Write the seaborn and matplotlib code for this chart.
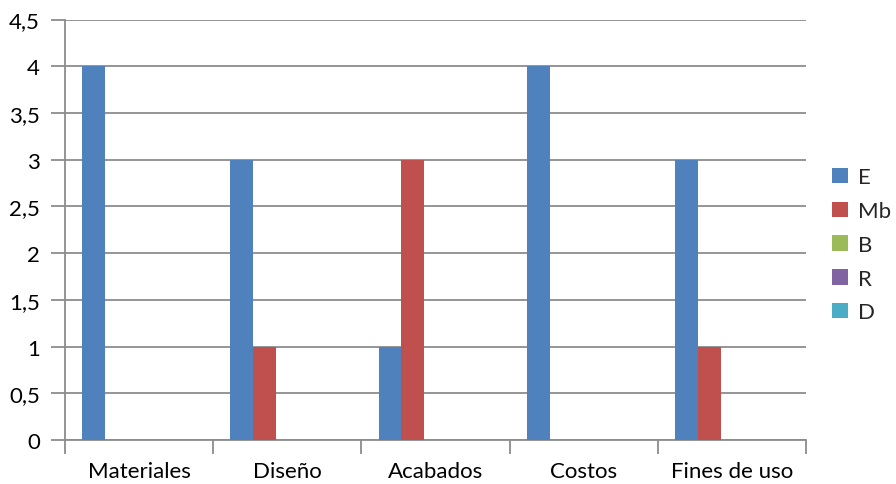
import matplotlib
matplotlib.use("Agg")
import matplotlib.pyplot as plt
from matplotlib.ticker import FuncFormatter, MultipleLocator, FixedLocator
from matplotlib.patches import Patch
import seaborn as sns
import pandas as pd

categories = ["Materiales", "Diseño", "Acabados", "Costos", "Fines de uso"]
series = ["E", "Mb", "B", "R", "D"]
values_E = [4, 3, 1, 4, 3]
values_Mb = [0, 1, 3, 0, 1]
values_B = [0, 0, 0, 0, 0]
values_R = [0, 0, 0, 0, 0]
values_D = [0, 0, 0, 0, 0]
colors = ["#4F81BD", "#C0504D", "#9BBB59", "#8064A2", "#4BACC6"]

rows = []
for name, vals in zip(series, [values_E, values_Mb, values_B, values_R, values_D]):
    for cat, v in zip(categories, vals):
        rows.append({"Categoria": cat, "Serie": name, "Valor": v})
df = pd.DataFrame(rows)

sns.set_theme(style="white")
plt.rcParams["font.family"] = ["Lato", "DejaVu Sans"]

fig = plt.figure(figsize=(8.96, 4.85), dpi=100)
ax = fig.add_axes([65 / 896, 44 / 485, 741 / 896, 420.5 / 485])

grid_color = "#8C8C8C"
sns.barplot(data=df, x="Categoria", y="Valor", hue="Serie", order=categories,
            hue_order=series, palette=colors, width=5 / 6.5, saturation=1,
            linewidth=0, ax=ax, legend=False, zorder=3)

ax.set_xlim(-0.5, len(categories) - 0.5)
ax.set_ylim(0, 4.5)
ax.yaxis.set_major_locator(MultipleLocator(0.5))
ax.yaxis.set_major_formatter(FuncFormatter(
    lambda v, p: ("%g" % v).replace(".", ",")))
ax.grid(axis="y", color=grid_color, linewidth=1.3, zorder=0)
ax.set_axisbelow(True)

for side in ["top", "right"]:
    ax.spines[side].set_visible(False)
for side in ["left", "bottom"]:
    ax.spines[side].set_color(grid_color)
    ax.spines[side].set_linewidth(1.3)

ax.set_xlabel("")
ax.set_ylabel("")
ax.tick_params(axis="y", which="major", length=10, width=1.3, color=grid_color,
               direction="out", pad=8, labelsize=16, labelcolor="black", left=True)
ax.tick_params(axis="x", which="major", length=0, pad=15, labelsize=16,
               labelcolor="black")
ax.xaxis.set_minor_locator(FixedLocator([i - 0.5 for i in range(len(categories) + 1)]))
ax.tick_params(axis="x", which="minor", length=10, width=1.3, color=grid_color,
               direction="out", bottom=True)

handles = [Patch(facecolor=c, edgecolor="none") for c in colors]
fig.legend(handles, series, loc="center left", bbox_to_anchor=(832 / 896, 0.493),
           frameon=False, fontsize=16, handlelength=0.7, handleheight=0.7,
           handletextpad=0.45, labelspacing=0.62, borderaxespad=0, borderpad=0)

fig.savefig("out.png", dpi=100)
